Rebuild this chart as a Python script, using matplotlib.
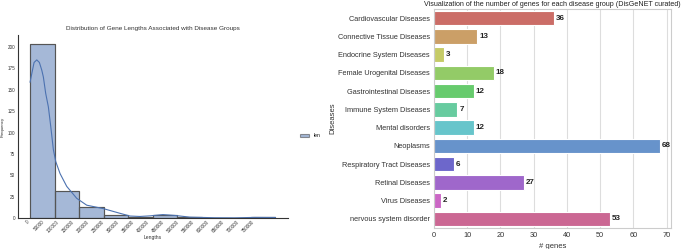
import numpy as np
import matplotlib.pyplot as plt
import seaborn as sns

# histogram of gene lengths (10 bins)
len_edges = [0, 81900, 163800, 245700, 327600, 409500, 491400, 573300, 655200, 737100, 819000]
len_counts = [204, 32, 13, 4, 1, 3, 1, 0, 0, 1]

# kde curve
kde_x = [0, 5700, 13300, 22300, 31000, 39000, 44300, 52000, 61000, 69000, 77700, 85700,
         100000, 122300, 155700, 189000, 244300, 300000, 333300, 366700, 400000, 443300,
         483300, 533300, 616700, 683300, 750000, 819000]
kde_y = [159, 169, 182, 185, 182, 173, 165, 146, 130, 107, 80, 66,
         52, 37, 23, 15, 11, 5.5, 2.3, 1.8, 2.5, 4.0,
         3.0, 1.0, 0.3, 0.2, 0.7, 0.6]
len_ticks = list(range(0, 800000, 50000))

# genes per disease group
diseases = ['Cardiovascular Diseases', 'Connective Tissue Diseases', 'Endocrine System Diseases',
            'Female Urogenital Diseases', 'Gastrointestinal Diseases', 'Immune System Diseases',
            'Mental disorders', 'Neoplasms', 'Respiratory Tract Diseases', 'Retinal Diseases',
            'Virus Diseases', 'nervous system disorder']
n_genes = [36, 13, 3, 18, 12, 7, 12, 68, 6, 27, 2, 53]

plt.rcParams['font.family'] = ['Liberation Sans', 'DejaVu Sans']

fig = plt.figure(figsize=(6.85, 2.49), dpi=100)

# --- left: histogram ---
ax1 = fig.add_axes([0.026, 0.1245, 0.394, 0.7345])
hist_col = '#4c72b0'
ax1.bar(len_edges[:-1], len_counts, width=np.diff(len_edges), align='edge',
        color=hist_col, alpha=0.5, edgecolor='#333333', linewidth=0.8, label='len')
# redraw edges opaque
ax1.bar(len_edges[:-1], len_counts, width=np.diff(len_edges), align='edge',
        fill=False, edgecolor='#555555', linewidth=0.8)
ax1.plot(kde_x, kde_y, color=hist_col, linewidth=0.8)
ax1.set_xticks(len_ticks)
ax1.set_xticklabels([str(t) for t in len_ticks], rotation=45, ha='right', fontsize=3.3,
                    color='#333333')
ax1.set_yticks(range(0, 201, 25))
ax1.tick_params(axis='y', labelsize=3.3, colors='#333333', length=0, pad=2)
ax1.tick_params(axis='x', length=0, pad=1)
ax1.set_ylim(0, 214)
ax1.set_xlim(-41000, 860000)
for s in ['top', 'right']:
    ax1.spines[s].set_visible(False)
for s in ['left', 'bottom']:
    ax1.spines[s].set_color('#333333')
    ax1.spines[s].set_linewidth(0.8)
ax1.set_title('Distribution of Gene Lengths Associated with Disease Groups', fontsize=4.6,
              color='#333333', pad=4)
ax1.set_xlabel('Lengths', fontsize=3.6, color='#333333', labelpad=1)
ax1.set_ylabel('Frequency', fontsize=3.2, color='#333333', labelpad=2)
leg = ax1.legend(loc='center left', bbox_to_anchor=(1.03, 0.45), fontsize=3.6, frameon=False,
                 handlelength=1.8, handleheight=0.6)

# --- right: horizontal bars ---
ax2 = fig.add_axes([0.6336, 0.0843, 0.3464, 0.8796])
colors = sns.color_palette('hls', len(diseases), desat=0.75)
ypos = np.arange(len(diseases))
bars = ax2.barh(ypos, n_genes, height=0.8, color=colors, edgecolor='white', linewidth=0.8,
                zorder=2)
for b, v in zip(bars, n_genes):
    ax2.text(b.get_width() + 0.6, b.get_y() + b.get_height() / 2, str(v),
             va='center', ha='left', fontsize=5.8, fontweight='bold', color='#222222')
ax2.set_yticks(ypos)
ax2.set_yticklabels(diseases)
ax2.set_ylim(len(diseases) - 0.5, -0.5)
ax2.set_xticks(range(0, 71, 10))
ax2.tick_params(axis='both', labelsize=5.3, colors='#333333', length=0, pad=3)
ax2.grid(axis='x', color='#dddddd', linewidth=0.8, zorder=0)
ax2.set_axisbelow(True)
for s in ax2.spines.values():
    s.set_color('#cccccc')
    s.set_linewidth(0.8)
ax2.set_title('Visualization of the number of genes for each disease group (DisGeNET curated)',
              fontsize=5.1, color='#222222', pad=2)
ax2.set_xlabel('# genes', fontsize=5.5, color='#333333', labelpad=3)
ax2.set_ylabel('Diseases', fontsize=5.5, color='#333333', labelpad=1)

fig.savefig('out.png', dpi=100)
